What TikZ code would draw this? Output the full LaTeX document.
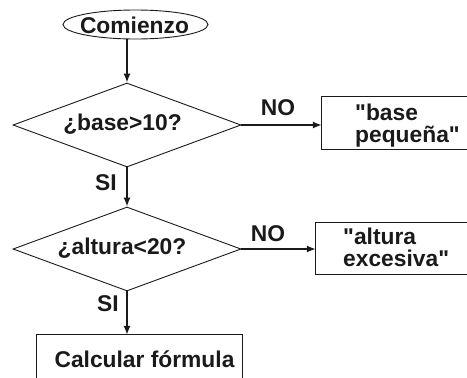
\documentclass[tikz,border=0pt]{standalone}
\usepackage{fontspec}
\setmainfont{Liberation Sans}[Ligatures=TeXOff]
\usetikzlibrary{shapes.geometric,arrows.meta}
\definecolor{ink}{HTML}{1A1A1A}
\tikzset{
  lbl/.style={font=\bfseries\fontsize{22.8}{21.8}\selectfont, text=ink, inner sep=0pt},
  dia/.style={draw=ink, line width=0.9pt, shape=diamond, inner sep=0pt, minimum width=228pt, minimum height=84pt},
  shape box/.style={draw=none, minimum height=52pt, inner sep=0pt},
  flow/.style={draw=ink, line width=1.4pt, -{Latex[length=9pt,width=7pt]}},
  frame/.style={draw=ink, line width=1pt}
}
\begin{document}
\begin{tikzpicture}[x=1pt,y=-1pt]
\useasboundingbox (0,0) rectangle (467,378);
% start
\node[draw=ink, line width=0.9pt, ellipse, minimum width=145pt, minimum height=29pt, inner sep=0pt] (start) at (135.5,24.5) {};
\node[lbl] (tstart) at (134.5,25) {Comienzo};
% decision 1
\node[dia] (d1) at (127,125) {};
\node[lbl] (td1) at (122.5,124.5) {¿base>10?};
% box 1
\node[shape box, minimum width=160pt] (b1) at (402,123) {};
\draw[frame] (b1.north east) -- (b1.north west) -- (b1.south west) -- (b1.south east);
\node[lbl, anchor=west, align=left] (tb1) at (355,126) {"base\\pequeña"};
% decision 2
\node[dia] (d2) at (127,249) {};
\node[lbl] (td2) at (122,248.5) {¿altura<20?};
% box 2
\node[shape box, minimum width=166pt, minimum height=51pt] (b2) at (399,248.5) {};
\draw[frame] (b2.north east) -- (b2.north west) -- (b2.south west) -- (b2.south east);
\node[lbl, anchor=west, align=left] (tb2) at (343,247.5) {"altura\\excesiva"};
% calc box
\node[draw=none, minimum width=205pt, minimum height=50pt, inner sep=0pt] (calc) at (139.5,360) {};
\draw[frame] (calc.south west) -- (calc.north west) -- (calc.north east) -- (calc.south east);
\node[lbl] (tcalc) at (144.5,359.5) {Calcular fórmula};
% labels
\node[lbl] (no1) at (278,108) {NO};
\node[lbl] (no2) at (268,234) {NO};
\node[lbl] (si1) at (106,183) {SI};
\node[lbl] (si2) at (108,304) {SI};
% connectors
\draw[flow] (start.south -| d1.north) -- (d1.north);
\draw[flow] (d1.east) -- (d1.east -| b1.west);
\draw[flow] (d1.south) -- (d2.north);
\draw[flow] (d2.east) -- (d2.east -| b2.west);
\draw[flow] (d2.south) -- (d2.south |- calc.north);
\end{tikzpicture}
\end{document}
